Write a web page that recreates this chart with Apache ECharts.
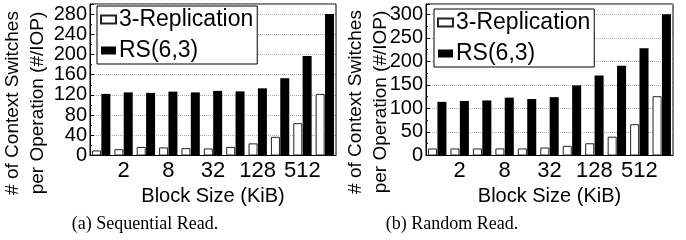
<!DOCTYPE html>
<html>
<head>
<meta charset="utf-8">
<script src="https://cdn.jsdelivr.net/npm/echarts@6/dist/echarts.min.js"></script>
<style>
html, body { margin: 0; padding: 0; background: #fff; }
#chart { width: 686px; height: 240px; }
</style>
</head>
<body>
<div id="chart"></div>
<script>
var blockSizes = ['1', '2', '4', '8', '16', '32', '64', '128', '256', '512', '1024'];
var seqReplication = [10, 12.5, 17, 16, 14.5, 14, 17, 24, 37, 64, 122];
var seqRs = [122, 125, 124, 126.5, 125, 128, 127, 133, 153, 197, 280];
var randReplication = [15, 15, 15, 15, 15, 17, 20.5, 26, 40, 66.5, 126];
var randRs = [114, 116, 117, 123, 120, 124, 149, 170, 191, 228, 300];
var seriesNames = ['3-Replication', 'RS(6,3)'];
var captions = ['(a) Sequential Read.', '(b) Random Read.'];
var yTitle = ['# of Context Switches', 'per Operation (#/IOP)'];
var xTitle = 'Block Size (KiB)';

var sans = 'Liberation Sans';
var chartDom = document.getElementById('chart');
var chart = echarts.init(chartDom);

function xAxisFor(gridIndex) {
    return {
        type: 'category',
        gridIndex: gridIndex,
        data: blockSizes,
        axisLine: { lineStyle: { color: '#000', width: 1 } },
        axisTick: { show: false },
        axisLabel: {
            interval: function (idx) { return idx % 2 === 1; },
            color: '#000',
            fontFamily: sans,
            fontSize: 22,
            margin: 4
        },
        name: xTitle,
        nameLocation: 'middle',
        nameGap: 21,
        nameTextStyle: { color: '#000', fontFamily: sans, fontSize: 20 }
    };
}

function yAxisFor(gridIndex, max, interval) {
    return {
        type: 'value',
        gridIndex: gridIndex,
        min: 0,
        max: max,
        interval: interval,
        axisLine: { show: true, lineStyle: { color: '#000', width: 1 } },
        axisTick: { show: true, inside: true, length: 4, lineStyle: { color: '#000' } },
        minorTick: { show: true, splitNumber: 2, length: 2, lineStyle: { color: '#000' } },
        axisLabel: {
            showMaxLabel: false,
            color: '#000',
            fontFamily: sans,
            fontSize: 20,
            margin: 3
        },
        splitLine: { show: true, lineStyle: { color: '#aaa', type: 'dotted', width: 1 } }
    };
}

function legendFor(left, top) {
    return {
        left: left,
        top: top,
        orient: 'vertical',
        data: seriesNames,
        icon: 'rect',
        itemWidth: 15,
        itemHeight: 8,
        itemGap: 8,
        padding: [2, 4, 2, 3],
        borderColor: '#000',
        borderWidth: 1,
        backgroundColor: '#fff',
        textStyle: { color: '#000', fontFamily: sans, fontSize: 23, padding: [0, 0, 0, -2] }
    };
}

function barPair(gridIndex, whiteData, blackData) {
    return [
        {
            name: seriesNames[0],
            type: 'bar',
            xAxisIndex: gridIndex,
            yAxisIndex: gridIndex,
            barGap: '4%',
            barCategoryGap: '18%',
            itemStyle: { color: '#fff', borderColor: '#222', borderWidth: 1 },
            data: whiteData
        },
        {
            name: seriesNames[1],
            type: 'bar',
            xAxisIndex: gridIndex,
            yAxisIndex: gridIndex,
            barGap: '4%',
            barCategoryGap: '18%',
            itemStyle: { color: '#000' },
            data: blackData
        }
    ];
}

function rotatedText(x, y, text) {
    return {
        type: 'text',
        x: x,
        y: y,
        rotation: Math.PI / 2,
        style: {
            text: text,
            fill: '#000',
            font: '19px "Liberation Sans"',
            align: 'center',
            verticalAlign: 'middle'
        }
    };
}

function caption(x, y, text) {
    return {
        type: 'text',
        x: x,
        y: y,
        style: {
            text: text,
            fill: '#000',
            font: '18px "Liberation Serif"',
            align: 'center',
            verticalAlign: 'middle'
        }
    };
}

var chartOption = {
    animation: false,
    backgroundColor: '#fff',
    grid: [
        { left: 90, right: 350, top: 4, bottom: 84.5, show: true, borderColor: '#000', borderWidth: 1, outerBoundsMode: 'none' },
        { left: 426, right: 13, top: 4, bottom: 84.5, show: true, borderColor: '#000', borderWidth: 1, outerBoundsMode: 'none' }
    ],
    legend: [legendFor(97, 6), legendFor(434, 9)],
    xAxis: [xAxisFor(0), xAxisFor(1)],
    yAxis: [yAxisFor(0, 300, 40), yAxisFor(1, 322, 50)],
    series: barPair(0, seqReplication, seqRs).concat(barPair(1, randReplication, randRs)),
    graphic: [
        rotatedText(13, 103, yTitle[0]),
        rotatedText(38, 103, yTitle[1]),
        rotatedText(356, 102, yTitle[0]),
        rotatedText(381, 102, yTitle[1]),
        caption(145, 224, captions[0]),
        caption(452, 224, captions[1])
    ]
};

chart.setOption(chartOption);
</script>
</body>
</html>
